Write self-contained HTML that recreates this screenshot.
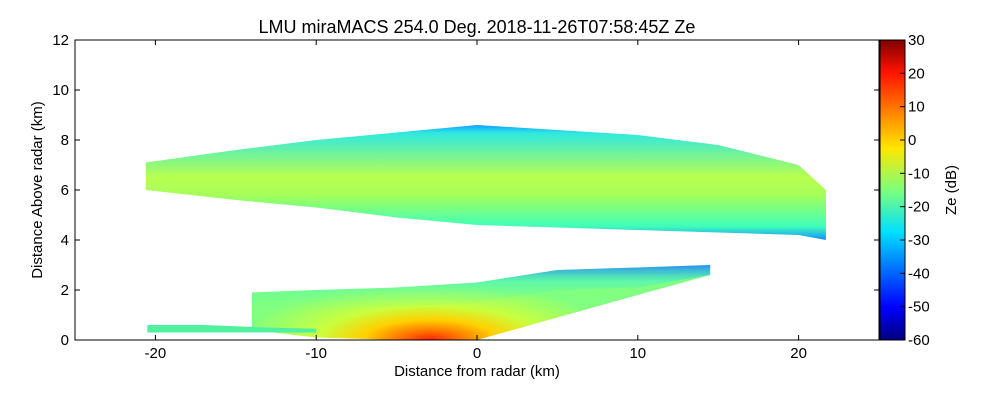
<!DOCTYPE html>
<html><head><meta charset="utf-8"><style>
body{margin:0;background:#fff;width:1000px;height:400px;overflow:hidden}
svg{display:block;font-family:"Liberation Sans",sans-serif}
</style></head><body>
<svg id="chart" width="1000" height="400">
<defs>
<linearGradient id="jet" x1="0" y1="1" x2="0" y2="0">
<stop offset="0" stop-color="#00007f"/><stop offset="0.11" stop-color="#0000ff"/>
<stop offset="0.36" stop-color="#00e0ff"/><stop offset="0.5" stop-color="#7dff7a"/>
<stop offset="0.64" stop-color="#ffe600"/><stop offset="0.89" stop-color="#ff1400"/>
<stop offset="1" stop-color="#7f0000"/></linearGradient>
<linearGradient id="upperG" x1="0" y1="0" x2="0" y2="1">
<stop offset="0" stop-color="#10a0ff"/><stop offset="0.07" stop-color="#30e8e0"/>
<stop offset="0.45" stop-color="#b8ff50"/><stop offset="0.6" stop-color="#a8ff58"/>
<stop offset="0.88" stop-color="#40ffb8"/><stop offset="1" stop-color="#1090ff"/></linearGradient>
<radialGradient id="lowerG" gradientUnits="userSpaceOnUse" cx="430" cy="340" r="190" gradientTransform="translate(430,340) scale(1,0.3) translate(-430,-340)">
<stop offset="0" stop-color="#ff2000"/><stop offset="0.15" stop-color="#ff7000"/>
<stop offset="0.35" stop-color="#ffd000"/><stop offset="0.6" stop-color="#c8ff40"/>
<stop offset="1" stop-color="#80ff80"/></radialGradient>
<linearGradient id="lowerTopG" x1="0" y1="0" x2="0" y2="1">
<stop offset="0" stop-color="#2080ff" stop-opacity="0.9"/><stop offset="0.35" stop-color="#40f0d0" stop-opacity="0.5"/>
<stop offset="1" stop-color="#80ff80" stop-opacity="0"/></linearGradient>
</defs>
<g id="plot"></g>
</svg>
<script>
const upperX=[-20.6,-15,-10,-5,0,5,10,15,20,21.7];
const upperTop=[7.1,7.6,8.0,8.3,8.6,8.4,8.2,7.8,7.0,6.0];
const upperBot=[6.0,5.6,5.3,4.9,4.6,4.5,4.4,4.3,4.2,4.0];
const lowerX=[-14,-10,-5,0,5,10,14.5];
const lowerTop=[1.9,2.0,2.1,2.3,2.8,2.9,3.0];
const lowerBot=[0.4,0.1,0,0,0.9,1.8,2.6];
const stripX=[-20.5,-17,-13,-10];
const stripTop=[0.6,0.6,0.5,0.45];
const stripBot=[0.3,0.3,0.3,0.3];
const xTicks=[-20,-10,0,10,20];
const yTicks=[0,2,4,6,8,10,12];
const cTicks=[-60,-50,-40,-30,-20,-10,0,10,20,30];
const L=75,R=879,T=40,B=340;
const sx=v=>L+(v+25)/50*(R-L), sy=v=>B-v/12*(B-T);
const cy=v=>B-(v+60)/90*(B-T);
const ns="http://www.w3.org/2000/svg", g=document.getElementById('plot');
function mk(t,a,txt){const e=document.createElementNS(ns,t);for(const k in a)e.setAttribute(k,a[k]);if(txt!==undefined)e.textContent=txt;g.appendChild(e);return e;}
function band(xs,top,bot,fill,name){
 let p=xs.map((x,i)=>sx(x)+','+sy(top[i]));
 for(let i=xs.length-1;i>=0;i--)p.push(sx(xs[i])+','+sy(bot[i]));
 const e=mk('polygon',{points:p.join(' '),fill:fill});
 
 
}
band(upperX,upperTop,upperBot,'url(#upperG)','upper-cloud-echo');
band(lowerX,lowerTop,lowerBot,'url(#lowerG)','lower-cloud-echo');
band(lowerX,lowerTop,lowerTop.map((v,i)=>Math.max(lowerBot[i],v-0.8)),'url(#lowerTopG)','lower-cloud-top-edge');
band(stripX,stripTop,stripBot,'#50f0a0','surface-echo-strip');
const fr=mk('rect',{x:L,y:T,width:R-L,height:B-T,fill:'none',stroke:'#000'});


xTicks.forEach(v=>{const x=sx(v);mk('line',{x1:x,x2:x,y1:B,y2:B-5,stroke:'#000'});mk('line',{x1:x,x2:x,y1:T,y2:T+5,stroke:'#000'});
 const t=mk('text',{x:x,y:B+18,'text-anchor':'middle','font-size':15},v);
 
 });
yTicks.forEach(v=>{const y=sy(v);mk('line',{x1:L,x2:L+5,y1:y,y2:y,stroke:'#000'});mk('line',{x1:R,x2:R-5,y1:y,y2:y,stroke:'#000'});
 const t=mk('text',{x:L-6,y:y+5,'text-anchor':'end','font-size':15},v);
 
 });
const cb=mk('rect',{x:880,y:T,width:25,height:B-T,fill:'url(#jet)',stroke:'#000'});


cTicks.forEach(v=>{const y=cy(v);mk('line',{x1:900,x2:905,y1:y,y2:y,stroke:'#000'});
 const t=mk('text',{x:908,y:y+5,'font-size':15},v);
 
 });
const ti=mk('text',{x:477,y:33,'text-anchor':'middle','font-size':18},'LMU miraMACS 254.0 Deg. 2018-11-26T07:58:45Z  Ze');


const xt=mk('text',{x:477,y:376,'text-anchor':'middle','font-size':15},'Distance from radar (km)');


const yt=mk('text',{x:0,y:0,'text-anchor':'middle','font-size':15,transform:'translate(42,190) rotate(-90)'},'Distance Above radar  (km)');


const ct=mk('text',{x:0,y:0,'text-anchor':'middle','font-size':15,transform:'translate(956,190) rotate(-90)'},'Ze (dB)');


</script>
</body></html>
